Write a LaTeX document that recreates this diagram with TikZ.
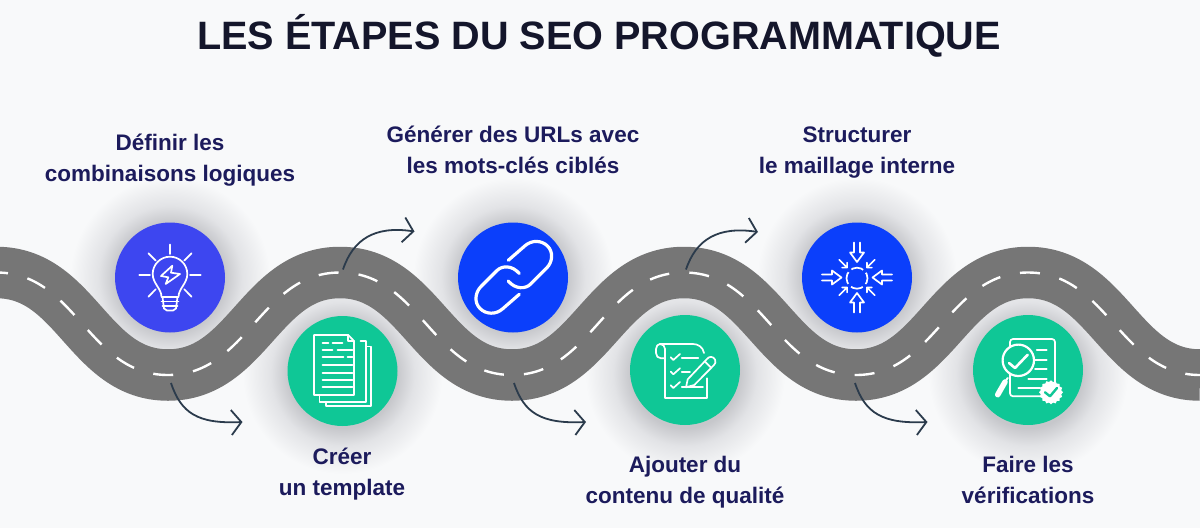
\documentclass[tikz,border=0pt]{standalone}
\usepackage{fontspec}
\setmainfont{Liberation Sans}
\usetikzlibrary{arrows.meta,shapes.geometric}
\definecolor{pagebg}{HTML}{F8F9FA}
\definecolor{halogray}{HTML}{C6C7CB}
\definecolor{halomid}{HTML}{E2E3E6}
\definecolor{roadgray}{HTML}{767676}
\definecolor{titleink}{HTML}{14162B}
\definecolor{labelink}{HTML}{1C1B5C}
\definecolor{arrowink}{HTML}{2B3B4C}
\definecolor{bulbblue}{HTML}{3D46F0}
\definecolor{stepblue}{HTML}{0B3FFB}
\definecolor{stepgreen}{HTML}{0FC796}
\pgfdeclareradialshading{halo}{\pgfpointorigin}{color(0bp)=(halogray); color(13.5bp)=(halogray); color(18bp)=(halomid); color(25bp)=(pagebg); color(50bp)=(pagebg)}
\newcommand{\roadline}{(-3.5,272.5) .. controls +(80,0) and +(-80,0) .. (168,375)
    .. controls +(80,0) and +(-80,0) .. (340,272.5)
    .. controls +(80,0) and +(-80,0) .. (512,375)
    .. controls +(80,0) and +(-80,0) .. (684,272.5)
    .. controls +(80,0) and +(-80,0) .. (856,375)
    .. controls +(80,0) and +(-80,0) .. (1028,272.5)
    .. controls +(80,0) and +(-80,0) .. (1200,375)}
\tikzset{
    stepcircle/.style={circle, minimum size=110pt, inner sep=0pt, fill=#1},
    stephalo/.style={shading=halo},
    steplabel/.style={align=center, text=labelink, font=\fontsize{22.5}{31}\bfseries\selectfont},
    steparrow/.style={draw=arrowink, line width=1.8pt, -{Straight Barb[length=10pt,width=25pt]}},
    iconline/.style={draw=white, line width=1.7pt, line cap=round, line join=round},
}
\begin{document}
\begin{tikzpicture}[x=1pt, y=-1pt]
                    % Page, halos and road:
                    \clip (0,0) rectangle (1200,528);
                    \fill[pagebg] (0,0) rectangle (1200,528);
                    \shade[stephalo] (170,277.5) circle[radius=100];
                    \shade[stephalo] (342.5,374) circle[radius=100];
                    \shade[stephalo] (513,277.5) circle[radius=100];
                    \shade[stephalo] (685,374) circle[radius=100];
                    \shade[stephalo] (857,277.5) circle[radius=100];
                    \shade[stephalo] (1028,374) circle[radius=100];
                    \draw[roadgray, line width=51.5pt] \roadline;
                    \draw[white, line width=2.4pt, dash pattern=on 20pt off 20.15pt, dash phase=8.5pt] \roadline;
                    \node[stepcircle=bulbblue] (bulb) at (170,277.5) {};
                    \node[stepcircle=stepgreen] (pages) at (342.5,371) {};
                    \node[stepcircle=stepblue] (link) at (513,277.5) {};
                    \node[stepcircle=stepgreen] (checklist) at (685,370) {};
                    \node[stepcircle=stepblue] (mesh) at (857,277.5) {};
                    \node[stepcircle=stepgreen] (report) at (1028,370) {};
                    % Icons:
                    \begin{scope}[shift={(bulb.center)}]
                        \draw[iconline] (-8.5,19.5) .. controls (-8.5,11) and (-17.3,6) .. (-17.3,-3.5) arc[start angle=180, end angle=360, radius=17.3] .. controls (17.3,6) and (8.5,11) .. (8.5,19.5) -- cycle;
                        \draw[iconline] (-8.5,24) -- (8.5,24);
                        \draw[iconline] (-7.5,28.5) -- (7.5,28.5);
                        \draw[iconline] (-7.5,19.5) -- (-6,31) -- (-3,33) -- (3,33) -- (6,31) -- (7.5,19.5);
                        \draw[iconline] (2.3,-11.8) -- (-9,-1.5) -- (-1.7,-0.2) -- (-4.3,6.5) -- (10,-3.5) -- (1,-4.8) -- cycle;
                        \draw[iconline] (0,-33) -- (0,-23.5);
                        \draw[iconline] (-30.7,-2.5) -- (-20,-2.5);
                        \draw[iconline] (30.7,-2.5) -- (20,-2.5);
                        \draw[iconline] (-21.6,-24.2) -- (-14.3,-17);
                        \draw[iconline] (21.6,-24.2) -- (14.3,-17);
                        \draw[iconline] (-21.6,19.2) -- (-14.3,11.8);
                        \draw[iconline] (21.6,19.2) -- (14.3,11.8);
                    \end{scope}
                    \begin{scope}[shift={(pages.center)}]
                        \draw[iconline] (23.5,-24.5) -- (28.5,-24.5) -- (28.5,35) -- (-16.5,35) -- (-16.5,30.7);
                        \draw[iconline] (18,-30) -- (23.5,-30) -- (23.5,30.7) -- (-23,30.7) -- (-23,24);
                        \draw[iconline, fill=stepgreen] (-28.5,-36) -- (5.8,-36) -- (11.5,-30) -- (11.5,24) -- (-28.5,24) -- cycle;
                        \draw[iconline] (5.8,-36) -- (5.8,-30) -- (11.5,-30);
                        \draw[iconline] (-20,-27.7) -- (-14,-27.7);
                        \draw[iconline] (-10,-27.7) -- (0,-27.7);
                        \draw[iconline] (-20,-21) -- (-10,-21);
                        \draw[iconline] (-5,-21) -- (10,-21);
                        \draw[iconline] (-20,-14.3) -- (1,-14.3);
                        \draw[iconline] (5,-14.3) -- (10,-14.3);
                        \draw[iconline] (-20,-6) -- (10,-6);
                        \draw[iconline] (-20,1.7) -- (10,1.7);
                        \draw[iconline] (-20,9) -- (10,9);
                        \draw[iconline] (-20,16.3) -- (10,16.3);
                    \end{scope}
                    \begin{scope}[shift={(link.center)}]
                        \draw[iconline, line width=3.2pt] (6.3,16.8) -- (-10,31) .. controls (-17,37.5) and (-27,37) .. (-33,31) .. controls (-39,25) and (-38,15) .. (-32,9) -- (-16,-7) .. controls (-11,-12) and (-1,-12.5) .. (6.3,-4);
                        \draw[iconline, line width=3.2pt] (-4.7,-17.2) -- (11.6,-31.4) .. controls (18.6,-37.9) and (28.6,-37.4) .. (34.6,-31.4) .. controls (40.6,-25.4) and (39.6,-15.4) .. (33.6,-9.4) -- (17.6,6.6) .. controls (12.6,11.6) and (2.6,12.1) .. (-4.7,3.6);
                    \end{scope}
                    \begin{scope}[shift={(checklist.center)}]
                        \draw[iconline] (-20,-21) -- (-20,28.3) -- (21.7,28.3) -- (21.7,8.3);
                        \draw[iconline] (-25,-26) -- (8,-26) .. controls (13,-26) and (18,-23) .. (19,-17);
                        \draw[iconline] (-20,-11.7) -- (-24,-11.7) .. controls (-27,-11.7) and (-29,-14) .. (-29,-17) -- (-29,-21) .. controls (-29,-24) and (-27,-26) .. (-25,-26) .. controls (-22,-26) and (-20,-24) .. (-20,-21);
                        \draw[iconline] (-14.3,-12.7) -- (-11.7,-10) -- (-5,-16);
                        \draw[iconline] (-14.3,1.6) -- (-11.7,4.3) -- (-5,-1.7);
                        \draw[iconline] (-14.3,15.3) -- (-11.7,18) -- (-5,12);
                        \draw[iconline] (-3.3,-11.7) -- (13.3,-11.7);
                        \draw[iconline] (-3.3,2.3) -- (5,2.3);
                        \draw[iconline] (-3.3,16.7) -- (18,16.7);
                        \draw[iconline, fill=stepgreen] (1,17.3) -- (2.7,9.3) -- (21.7,-10.7) .. controls (24,-14) and (28,-14) .. (30,-10.5) .. controls (31,-8) and (30.5,-6.5) .. (29,-5) -- (9.3,15) -- cycle;
                        \draw[iconline] (20,-8.3) -- (25.7,-2.7);
                    \end{scope}
                    \begin{scope}[shift={(mesh.center)}]
                        \draw[iconline, line cap=butt, dash pattern=on 12.5pt off 4pt, dash phase=6.25pt] (0,0.7) circle[radius=10.5];
                        \foreach \ang in {0,90,180,270}
                            \draw[iconline, rotate=\ang] (-3,-35) -- (-3,-25) -- (-7,-25) -- (0,-15.5) -- (7,-25) -- (3,-25) -- (3,-35);
                        \foreach \ang in {45,135,225,315}
                            \draw[iconline, rotate=\ang] (0,-25) -- (0,-14) (-3.5,-17.5) -- (0,-14) -- (3.5,-17.5);
                    \end{scope}
                    \begin{scope}[shift={(report.center)}]
                        \draw[iconline, rounded corners=3pt] (-18,-31) rectangle (27,26.3);
                        \draw[iconline] (8.7,-20.3) -- (18.7,-20.3);
                        \draw[iconline] (7,-10.3) -- (18.7,-10.3);
                        \draw[iconline] (7,-1) -- (18.7,-1);
                        \draw[iconline] (0.3,8.7) -- (18.7,8.7);
                        \draw[iconline] (-9.7,18) -- (12,18);
                        \draw[iconline, line width=2.2pt, fill=stepgreen] (-9.7,-9.7) circle[radius=15.7];
                        \draw[iconline, line width=2pt] (-20.3,8) -- (-23,12);
                        \draw[iconline, line width=5.5pt] (-23,12) -- (-30.3,24.7);
                        \draw[iconline, line width=2.6pt] (-19,-7) -- (-13,-2) -- (-0.3,-15.3);
                        \node[star, star points=16, star point ratio=1.15, minimum size=24pt, inner sep=0pt, fill=white] (badge) at (23,22.3) {};
                        \draw[draw=stepgreen, line width=2.4pt, line cap=round, line join=round] (17,22.3) -- (22,26.3) -- (29,18);
                    \end{scope}
                    % Arrows:
                    \coordinate (bendA) at (171,383);
                    \coordinate (goalA) at (242.5,422);
                    \coordinate (bendB) at (343,269.5);
                    \coordinate (goalB) at (414.5,231.5);
                    \coordinate (bendC) at (514,383);
                    \coordinate (goalC) at (586,422);
                    \coordinate (bendD) at (686,269.5);
                    \coordinate (goalD) at (758,232);
                    \coordinate (bendE) at (855,383);
                    \coordinate (goalE) at (927.5,422);
                    \draw[steparrow] (bendA) .. controls +(10,30) and +(-45,2) .. (goalA);
                    \draw[steparrow] (bendB) .. controls +(10,-30) and +(-40,-6) .. (goalB);
                    \draw[steparrow] (bendC) .. controls +(10,30) and +(-45,2) .. (goalC);
                    \draw[steparrow] (bendD) .. controls +(10,-30) and +(-40,-6) .. (goalD);
                    \draw[steparrow] (bendE) .. controls +(10,30) and +(-45,2) .. (goalE);
                    % Texts:
                    \node[text=titleink, font=\fontsize{39.6}{44}\bfseries\selectfont] (title) at (599,36) {LES ÉTAPES DU SEO PROGRAMMATIQUE};
                    \node[steplabel] (labelA) at (170,160.5) {Définir les\\combinaisons logiques};
                    \node[steplabel] (labelB) at (342,474) {Créer\\un template};
                    \node[steplabel] (labelC) at (513,150) {Générer des URLs avec\\les mots-clés ciblés};
                    \node[steplabel] (labelD) at (685,482) {Ajouter du\\contenu de qualité};
                    \node[steplabel] (labelE) at (857,153) {Structurer\\le maillage interne};
                    \node[steplabel] (labelF) at (1028,480) {Faire les\\vérifications};
\end{tikzpicture}
\end{document}
